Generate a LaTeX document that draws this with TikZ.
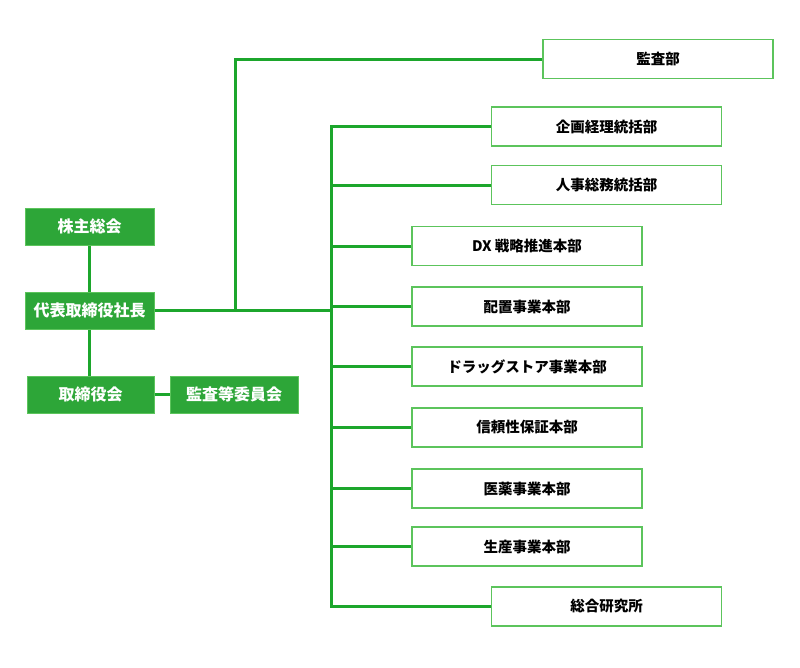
\documentclass[tikz,border=0pt]{standalone}
\usepackage{fontspec}
\setmainfont{Noto Sans CJK JP}
\definecolor{boxgreen}{HTML}{2DA638}
\definecolor{linegreen}{HTML}{1CA62C}
\definecolor{edgegreen}{HTML}{5CC45C}
\begin{document}
\begin{tikzpicture}[x=1pt,y=-1pt,
  greenbox/.style={draw=edgegreen,line width=1pt,fill=boxgreen,text=white,minimum width=129pt,minimum height=37pt,inner sep=0pt,font=\fontsize{16}{18}\selectfont\bfseries},
  whitebox/.style={draw=edgegreen,line width=1.4pt,fill=white,text=black,minimum width=230pt,minimum height=39pt,inner sep=0pt,font=\fontsize{14.5}{17}\selectfont\bfseries},
  conn/.style={draw=linegreen,line width=3pt}]
\useasboundingbox (0,0) rectangle (800,667);
% left column
\node[greenbox] (agm) at (89.5,226.5) {株主総会};
\node[greenbox] (ceo) at (89.5,310.5) {代表取締役社長};
\node[greenbox,minimum width=127pt] (board) at (90.5,394.5) {取締役会};
\node[greenbox,minimum width=128pt] (acm) at (234,394.5) {監査等委員会};
% right column
\node[whitebox] (audit) at (658,59) {監査部};
\node[whitebox] (kikaku) at (606.5,126.5) {企画経理統括部};
\node[whitebox] (jinji) at (606.5,185) {人事総務統括部};
\node[whitebox] (dx) at (527,246) {DX 戦略推進本部};
\node[whitebox] (haichi) at (527,306.5) {配置事業本部};
\node[whitebox] (drug) at (527,366.5) {ドラッグストア事業本部};
\node[whitebox] (shinrai) at (527,427.5) {信頼性保証本部};
\node[whitebox] (iyaku) at (527,488.5) {医薬事業本部};
\node[whitebox] (seisan) at (527,546.5) {生産事業本部};
\node[whitebox] (soken) at (606.5,606.5) {総合研究所};
% trunk coordinates
\coordinate (ttop) at (331.5,126.5);
\coordinate (tbot) at (331.5,606.5);
\coordinate (kx) at (235.5,59);
% connectors
\begin{scope}[on background layer/.style={}]
\draw[conn] (agm.south) -- (ceo.north);
\draw[conn] (ceo.south -| agm.south) -- (board.north -| agm.south);
\draw[conn] (board.east) -- (acm.west);
\draw[conn] (ceo.east) -- (ceo.east -| ttop);
\draw[conn] (kx |- ceo.east) -- (kx) -- (audit.west);
\draw[conn,line cap=rect] (ttop) -- (tbot);
\foreach \n in {kikaku,jinji,dx,haichi,drug,shinrai,iyaku,seisan,soken}
  \draw[conn] (\n.west -| ttop) -- (\n.west);
\end{scope}
\end{tikzpicture}
\end{document}
